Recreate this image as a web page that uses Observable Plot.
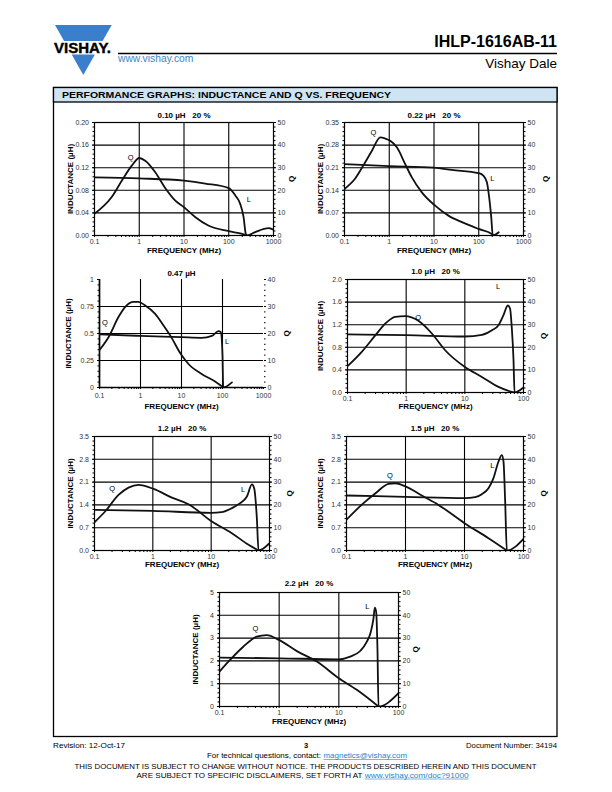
<!DOCTYPE html>
<html><head><meta charset="utf-8">
<script src="https://cdn.jsdelivr.net/npm/d3@7"></script>
<script src="https://cdn.jsdelivr.net/npm/@observablehq/plot@0.6"></script>
<style>
html,body{margin:0;padding:0;background:#fff;}
#page{position:relative;width:612px;height:792px;overflow:hidden;font-family:"Liberation Sans",Arial,Helvetica,sans-serif;}
.chrome{position:absolute;left:0;top:0;}
.chart{position:absolute;}
.chart svg{display:block;overflow:visible;}
</style></head>
<body><div id="page"></div>
<script>
// ---------- DATA ----------
const titles = ["0.10 µH\u00a0\u00a0 20 %", "0.22 µH\u00a0\u00a0 20 %", "0.47 µH", "1.0 µH\u00a0\u00a0 20 %", "1.2 µH\u00a0\u00a0 20 %", "1.5 µH\u00a0\u00a0 20 %", "2.2 µH\u00a0\u00a0 20 %"];
const yAxisTitle = "INDUCTANCE (µH)";
const qAxisTitle = "Q";
const xAxisTitle = "FREQUENCY (MHz)";

const xTicks4 = [0.1, 1, 10, 100, 1000];
const xTicks3 = [0.1, 1, 10, 100];
const yTicks_010 = [0, 0.04, 0.08, 0.12, 0.16, 0.20];
const yTicks_022 = [0, 0.07, 0.14, 0.21, 0.28, 0.35];
const yTicks_047 = [0, 0.25, 0.5, 0.75, 1];
const yTicks_10 = [0, 0.4, 0.8, 1.2, 1.6, 2.0];
const yTicks_12 = [0, 0.7, 1.4, 2.1, 2.8, 3.5];
const yTicks_15 = [0, 0.7, 1.4, 2.1, 2.8, 3.5];
const yTicks_22 = [0, 1, 2, 3, 4, 5];
const qTicks50 = [0, 10, 20, 30, 40, 50];
const qTicks40 = [0, 10, 20, 30, 40];

// [frequency MHz, inductance µH]
const L_010 = [[0.1,0.103],[1,0.101],[10,0.097],[30,0.092],[100,0.084],[140,0.071],[180,0.056],[215,0.032],[240,0.003],[260,0],[390,0.006],[780,0.013],[1000,0.010]];
const L_022 = [[0.1,0.221],[1,0.215],[10,0.210],[25,0.203],[100,0.193],[128,0.185],[152,0.165],[171,0.118],[190,0.057],[206,0],[280,0.01]];
const L_047 = [[0.1,0.491],[1,0.478],[10,0.466],[31,0.460],[55,0.478],[80,0.522],[91,0.512],[100,0.30],[104,0],[170,0.047]];
const L_10 = [[0.1,1.027],[1,1.015],[10,0.991],[19.5,1.021],[29,1.103],[37.5,1.192],[45.6,1.369],[54,1.540],[59,1.487],[63,1.162],[67.6,0.572],[70.3,0],[100,0.088]];
const L_12 = [[0.1,1.249],[1,1.218],[10,1.157],[15,1.177],[22.6,1.30],[31.4,1.453],[41,1.658],[50,2.03],[54.6,1.914],[60.7,0.993],[64.8,0],[100,0.225]];
const L_15 = [[0.1,1.689],[1,1.648],[10,1.607],[15.2,1.638],[19.7,1.730],[25.5,1.914],[31,2.221],[37.7,2.733],[43,2.93],[45.8,2.733],[48.9,1.505],[52.2,0],[100,0.358]];
const L_22 = [[0.1,2.143],[1,2.114],[10,2.07],[15.5,2.187],[22.8,2.434],[29.5,2.843],[34.4,3.28],[38.1,3.863],[40.1,4.34],[42.2,4.155],[44.5,2.405],[46.2,0],[100,0.583]];

// [frequency MHz, Q]
const Q_010 = [[0.1,9.6],[0.24,16.9],[0.41,24.3],[0.68,30.9],[1.0,34.3],[1.36,33.1],[2.3,27.9],[3.8,21.0],[6.4,15.4],[10,12.5],[18,8.1],[35,4.4],[100,1.9],[200,0.7],[260,0]];
const Q_022 = [[0.1,20.6],[0.17,25.0],[0.29,32.4],[0.41,37.5],[0.63,43.4],[0.81,42.9],[1.05,41.9],[1.48,39.0],[2.27,31.6],[3.2,25.7],[5.35,19.1],[10.6,13.2],[21,8.8],[42,5.9],[98.6,2.9],[196,0.7],[206,0]];
const Q_047 = [[0.1,13.9],[0.166,18.6],[0.29,26.1],[0.42,29.8],[0.68,31.7],[0.89,31.7],[1.3,30.4],[2.28,27.3],[3.64,23.0],[5.3,19.3],[9.8,12.2],[14.8,8.7],[31,5.0],[66,2.2],[100,0.25],[104,0]];
const Q_10 = [[0.1,11.65],[0.175,18.0],[0.3,25.4],[0.44,30.5],[0.65,33.5],[0.96,33.8],[1.62,31.7],[2.74,26.1],[4.62,18.7],[9.9,11.4],[19.5,6.9],[37.5,2.5],[63,0.3],[70.3,0]];
const Q_12 = [[0.1,12.4],[0.152,17.1],[0.258,24.4],[0.383,27.6],[0.57,28.8],[1.03,27.0],[2.12,23.2],[4.09,20.3],[10.3,12.7],[22.6,7.6],[43.7,2.5],[64.8,0]];
const Q_15 = [[0.1,13.5],[0.18,20.0],[0.31,25.1],[0.515,29.2],[0.67,29.5],[1.0,28.1],[1.89,24.1],[3.62,20.0],[10,12.0],[25.5,5.4],[52.2,0]];
const Q_22 = [[0.1,15.3],[0.15,20.4],[0.25,26.2],[0.42,30.6],[0.62,31.3],[0.99,29.2],[1.98,24.3],[4.28,19.7],[10,12.4],[20,7.3],[46.2,0]];

// curve annotations: [text, frequency MHz, inductance-scale value]
const notes_010 = [["Q",0.64,0.138],["L",280,0.064]];
const notes_022 = [["Q",0.445,0.319],["L",200,0.1765]];
const notes_047 = [["Q",0.135,0.599],["L",130,0.426]];
const notes_10 = [["Q",1.60,1.333],["L",37,1.876]];
const notes_12 = [["Q",0.201,1.90],["L",35.4,1.87]];
const notes_15 = [["Q",0.542,2.29],["L",29.5,2.62]];
const notes_22 = [["Q",0.401,3.41],["L",29.9,4.36]];

// ---------- LAYOUT ----------
const layout = [
  {l:94, t:122, r:273, b:235, titleDy:-7, yLabDx:-24, qLabDx:18, xLabDy:15, xPad:1.5, framed:true, yFmt:d3.format(".2f")},
  {l:344, t:122, r:523, b:235, titleDy:-7, yLabDx:-24, qLabDx:22, xLabDy:15, xPad:1.5, framed:true, yFmt:d3.format(".2f")},
  {l:99, t:279, r:263, b:387, titleDy:-6, yLabDx:-31, qLabDx:23, xLabDy:19, xPad:4, framed:false, yFmt:d => String(d)},
  {l:347, t:279, r:523, b:392, titleDy:-8, yLabDx:-27, qLabDx:20, xLabDy:14, xPad:1.5, framed:true, yFmt:d3.format(".1f")},
  {l:94, t:436, r:269, b:550, titleDy:-8, yLabDx:-24, qLabDx:20, xLabDy:14, xPad:1.5, framed:true, yFmt:d3.format(".1f")},
  {l:346, t:436, r:523, b:550, titleDy:-8, yLabDx:-26, qLabDx:20, xLabDy:14, xPad:1.5, framed:true, yFmt:d3.format(".1f")},
  {l:219, t:592, r:398, b:706, titleDy:-9, yLabDx:-24, qLabDx:17, xLabDy:15, xPad:1.5, framed:true, yFmt:d3.format("d")}
];
const series = [
  {L:L_010, Q:Q_010, x:xTicks4, y:yTicks_010, q:qTicks50, notes:notes_010},
  {L:L_022, Q:Q_022, x:xTicks4, y:yTicks_022, q:qTicks50, notes:notes_022},
  {L:L_047, Q:Q_047, x:xTicks4, y:yTicks_047, q:qTicks40, notes:notes_047},
  {L:L_10, Q:Q_10, x:xTicks3, y:yTicks_10, q:qTicks50, notes:notes_10},
  {L:L_12, Q:Q_12, x:xTicks3, y:yTicks_12, q:qTicks50, notes:notes_12},
  {L:L_15, Q:Q_15, x:xTicks3, y:yTicks_15, q:qTicks50, notes:notes_15},
  {L:L_22, Q:Q_22, x:xTicks3, y:yTicks_22, q:qTicks50, notes:notes_22}
];

const page = document.getElementById("page");
const FONT = "Liberation Sans, Arial, Helvetica, sans-serif";

// ---------- PAGE CHROME ----------
page.insertAdjacentHTML("beforeend", `
<svg class="chrome" width="612" height="792" xmlns="http://www.w3.org/2000/svg" font-family="${FONT}">
  <polygon points="55,25 111.7,25 102.6,41 64.1,41" fill="#3b7fcc"/>
  <polygon points="71.7,54.5 94.9,54.5 83.3,75" fill="#3b7fcc"/>
  <text x="54" y="53.2" font-size="14.5" font-weight="bold" textLength="57" lengthAdjust="spacingAndGlyphs" stroke="#000" stroke-width="0.4">VISHAY.</text>
  <line x1="118" y1="53.5" x2="557" y2="53.5" stroke="#000" stroke-width="1.3"/>
  <text x="557" y="47" text-anchor="end" font-size="16" font-weight="bold">IHLP-1616AB-11</text>
  <text x="118" y="62" font-size="10.3" fill="#3b86c8">www.vishay.com</text>
  <text x="557" y="68" text-anchor="end" font-size="13.5">Vishay Dale</text>
  <rect x="53.5" y="87.5" width="503.5" height="649" fill="none" stroke="#000" stroke-width="1.3"/>
  <rect x="53.5" y="87.5" width="503.5" height="14.5" fill="#cfe4f2" stroke="#000" stroke-width="1.3"/>
  <text x="62" y="98.2" font-size="9.5" font-weight="bold" textLength="329" lengthAdjust="spacingAndGlyphs">PERFORMANCE GRAPHS: INDUCTANCE AND Q VS. FREQUENCY</text>
  <text x="53" y="747.5" font-size="7.5" textLength="72" lengthAdjust="spacingAndGlyphs">Revision: 12-Oct-17</text>
  <text x="306" y="747.5" font-size="7.5" font-weight="bold" text-anchor="middle">3</text>
  <text x="557" y="747.5" font-size="7.5" text-anchor="end" textLength="91" lengthAdjust="spacingAndGlyphs">Document Number: 34194</text>
  <text x="207" y="758" font-size="7.5" textLength="114" lengthAdjust="spacingAndGlyphs">For technical questions, contact:</text>
  <text x="323.5" y="758" font-size="7.5" fill="#2a7fc4" textLength="83.5" lengthAdjust="spacingAndGlyphs">magnetics@vishay.com</text>
  <line x1="323.5" y1="759.5" x2="407" y2="759.5" stroke="#2a7fc4" stroke-width="0.6"/>
  <text x="74.5" y="769" font-size="7.8" textLength="462" lengthAdjust="spacingAndGlyphs">THIS DOCUMENT IS SUBJECT TO CHANGE WITHOUT NOTICE. THE PRODUCTS DESCRIBED HEREIN AND THIS DOCUMENT</text>
  <text x="136.5" y="777.5" font-size="7.8" textLength="226" lengthAdjust="spacingAndGlyphs">ARE SUBJECT TO SPECIFIC DISCLAIMERS, SET FORTH AT</text>
  <text x="364.8" y="777.5" font-size="7.8" fill="#2a7fc4" textLength="103.8" lengthAdjust="spacingAndGlyphs">www.vishay.com/doc?91000</text>
  <line x1="364.8" y1="779" x2="468.6" y2="779" stroke="#2a7fc4" stroke-width="0.6"/>
</svg>`);

// ---------- CHARTS ----------
function makeChart(s, g, title) {
  const x0 = s.x[0], x1 = s.x[s.x.length - 1];
  const yMax = s.y[s.y.length - 1];
  const qMax = s.q[s.q.length - 1];
  const k = yMax / qMax;
  const m = {l: 42, r: 34, t: 18, b: 28};
  const minorX = [];
  for (let d = x0; d < x1 * 0.999; d *= 10) for (let i = 2; i <= 9; i++) minorX.push(d * i);
  const yStep = s.y[1] - s.y[0];
  const minorY = d3.range(0, 5 * (s.y.length - 1) + 1).map(i => i * yStep / 5);
  const qStep = s.q[1] - s.q[0];
  const minorQ = d3.range(0, 5 * (s.q.length - 1) + 1).map(i => i * qStep / 5 * k);

  const marks = [
    Plot.ruleX(s.x.slice(1, -1), {stroke: "#000", strokeWidth: 1.1}),
    Plot.ruleY(s.y.slice(1, -1), {stroke: "#000", strokeWidth: 1.1})
  ];
  if (g.framed) marks.push(Plot.frame({stroke: "#000", strokeWidth: 1.2}));
  else marks.push(Plot.ruleX([x0], {stroke: "#000", strokeWidth: 1.7}), Plot.ruleY([0], {stroke: "#000", strokeWidth: 1.7}));

  marks.push(
    Plot.axisX(minorX, {anchor: "bottom", tickSize: 2, tickFormat: () => "", label: null}),
    Plot.axisX(s.x, {anchor: "bottom", tickSize: 2, tickPadding: g.xPad, tickFormat: d => String(d), label: null, fill: "#333"}),
    Plot.axisY(minorY, {anchor: "left", tickSize: 1.5, tickFormat: () => "", label: null}),
    Plot.axisY(s.y, {anchor: "left", tickSize: 2, tickPadding: 3.5, tickFormat: g.yFmt, label: null, fill: "#333"}),
    Plot.axisY(minorQ, {anchor: "right", tickSize: 1.5, tickFormat: () => "", label: null}),
    Plot.axisY(s.q.map(q => q * k), {anchor: "right", tickSize: 2, tickPadding: 2, tickFormat: d => String(Math.round(d / k)), label: null, fill: "#333"}),
    Plot.line(s.L, {x: d => d[0], y: d => d[1], stroke: "#111", strokeWidth: 1.8, curve: "monotone-x", clip: true}),
    Plot.line(s.Q, {x: d => d[0], y: d => d[1] * k, stroke: "#111", strokeWidth: 1.8, curve: "monotone-x", clip: true}),
    Plot.text(s.notes, {x: d => d[1], y: d => d[2], text: d => d[0], fontSize: 7.5, fill: "black"}),
    Plot.text([title], {frameAnchor: "top", dy: g.titleDy, textAnchor: "middle", lineAnchor: "middle", fontSize: 8, fontWeight: "bold", fill: "black"}),
    Plot.text([yAxisTitle], {frameAnchor: "left", dx: g.yLabDx, rotate: -90, textAnchor: "middle", lineAnchor: "middle", fontSize: 8, fontWeight: "bold", fill: "black"}),
    Plot.text([qAxisTitle], {frameAnchor: "right", dx: g.qLabDx, rotate: -90, textAnchor: "middle", lineAnchor: "middle", fontSize: 8, fontWeight: "bold", fill: "black"}),
    Plot.text([xAxisTitle], {frameAnchor: "bottom", dy: g.xLabDy, textAnchor: "middle", lineAnchor: "middle", fontSize: 8, fontWeight: "bold", fill: "black"})
  );

  const svg = Plot.plot({
    width: (g.r - g.l) + m.l + m.r,
    height: (g.b - g.t) + m.t + m.b,
    marginLeft: m.l, marginRight: m.r, marginTop: m.t, marginBottom: m.b,
    x: {type: "log", domain: [x0, x1], label: null},
    y: {domain: [0, yMax], label: null},
    style: {fontFamily: FONT, fontSize: "7px", background: "transparent", color: "#000", overflow: "visible"},
    marks
  });
  const div = document.createElement("div");
  div.className = "chart";
  div.style.left = (g.l - m.l) + "px";
  div.style.top = (g.t - m.t) + "px";
  div.appendChild(svg);
  page.appendChild(div);
}

series.forEach((s, i) => makeChart(s, layout[i], titles[i]));
</script>
</body></html>
